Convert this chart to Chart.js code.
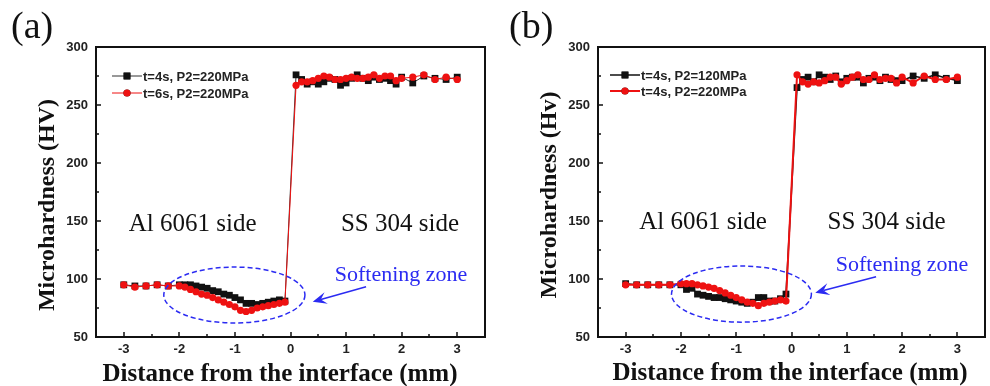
<!DOCTYPE html>
<html>
<head>
<meta charset="utf-8">
<script src="https://cdn.jsdelivr.net/npm/chart.js@4.4.1/dist/chart.umd.min.js"></script>
<style>
  html, body { margin: 0; padding: 0; background: #fff; }
  #wrap { position: relative; width: 990px; height: 386px; }
  .panel { position: absolute; top: 0; width: 495px; height: 386px; }
  #panelA { left: 0; }
  #panelB { left: 495px; }
</style>
</head>
<body>
<div id="wrap">
  <div class="panel" id="panelA"><canvas id="chartA" width="495" height="386"></canvas></div>
  <div class="panel" id="panelB"><canvas id="chartB" width="495" height="386"></canvas></div>
</div>
<script>
// distance from the interface (mm), shared by all four profiles
const distance = [
  -3, -2.8, -2.6, -2.4, -2.2,
  -2, -1.9, -1.8, -1.7, -1.6, -1.5, -1.4, -1.3, -1.2, -1.1,
  -1, -0.9, -0.8, -0.7, -0.6, -0.5, -0.4, -0.3, -0.2, -0.1,
  0.1, 0.2, 0.3, 0.4, 0.5, 0.6, 0.7, 0.8, 0.9, 1,
  1.1, 1.2, 1.3, 1.4, 1.5, 1.6, 1.7, 1.8, 1.9,
  2, 2.2, 2.4, 2.6, 2.8, 3
];

// (a) microhardness (HV)
const hvA_t4s_220 = [
  95, 94, 94, 95, 94,
  95, 95, 95, 94, 93, 92, 90, 89, 87, 86,
  84, 82, 79, 79, 78, 79, 80, 81, 82, 81,
  276, 272, 268, 270, 268, 270, 273, 272, 267, 269,
  273, 276, 273, 271, 274, 272, 273, 271, 268,
  274, 269, 275, 273, 272, 274
];
const hvA_t6s_220 = [
  95, 93, 94, 95, 94,
  94, 93, 91, 89, 87, 86, 84, 82, 80, 78,
  76, 73, 72, 73, 75, 76, 77, 78, 79, 80,
  267, 270, 270, 271, 273, 275, 274, 272, 272, 273,
  274, 273, 273, 274, 276, 273, 275, 275, 271,
  273, 274, 276, 272, 274, 272
];

// (b) microhardness (Hv)
const hvB_t4s_120 = [
  96, 95, 95, 95, 95,
  95, 91, 92, 87, 86, 85, 84, 84, 83, 82,
  81, 80, 79, 80, 84, 84, 81, 81, 83, 87,
  265, 272, 274, 270, 276, 274, 272, 275, 270, 273,
  274, 274, 269, 273, 274, 271, 274, 272, 271,
  271, 275, 273, 276, 273, 271
];
const hvB_t4s_220 = [
  95, 95, 95, 95, 95,
  96, 96, 96, 95, 94, 93, 92, 90, 88, 86,
  84, 82, 80, 79, 77, 79, 80, 81, 82, 81,
  276, 270, 268, 270, 269, 271, 274, 274, 268, 271,
  274, 276, 272, 272, 276, 272, 273, 273, 269,
  274, 269, 275, 272, 272, 274
];

const xTicks = [-3, -2, -1, 0, 1, 2, 3];
const yTicks = [50, 100, 150, 200, 250, 300];

const SERIF = '"Liberation Serif", "Times New Roman", serif';
const SANS = '"Liberation Sans", Arial, sans-serif';
const BLUE = '#2b2bf2';
const RED = '#ee1111';

function toPts(ys) {
  return distance.map((x, i) => ({ x: x, y: ys[i] }));
}

function arrow(ctx, x1, y1, x2, y2) {
  const dx = x2 - x1, dy = y2 - y1;
  const len = Math.hypot(dx, dy);
  const ux = dx / len, uy = dy / len;
  const nx = -uy, ny = ux;
  const L = 14, W = 6;
  ctx.beginPath();
  ctx.moveTo(x1, y1);
  ctx.lineTo(x2 - ux * L * 0.6, y2 - uy * L * 0.6);
  ctx.stroke();
  ctx.beginPath();
  ctx.moveTo(x2, y2);
  ctx.lineTo(x2 - ux * L + nx * W, y2 - uy * L + ny * W);
  ctx.lineTo(x2 - ux * L * 0.6, y2 - uy * L * 0.6);
  ctx.lineTo(x2 - ux * L - nx * W, y2 - uy * L - ny * W);
  ctx.closePath();
  ctx.fill();
}

// frame, inward ticks, legend, annotations and axis titles
const decorPlugin = {
  id: 'decor',
  afterDraw(chart, args, p) {
    const { ctx, chartArea: a, scales: { x, y } } = chart;
    ctx.save();

    // inward ticks
    ctx.strokeStyle = '#111';
    ctx.lineWidth = 1.5;
    ctx.beginPath();
    for (let v = -3; v <= 3; v += 0.5) {
      const px = Math.round(x.getPixelForValue(v));
      const len = Number.isInteger(v) ? 5 : 3;
      ctx.moveTo(px, a.bottom);
      ctx.lineTo(px, a.bottom - len);
    }
    for (let v = 75; v < 300; v += 25) {
      const py = Math.round(y.getPixelForValue(v));
      const len = v % 50 === 0 ? 5 : 3;
      ctx.moveTo(a.left, py);
      ctx.lineTo(a.left + len, py);
    }
    ctx.stroke();

    // frame
    ctx.lineWidth = 2;
    ctx.strokeRect(a.left, a.top, a.right - a.left, a.bottom - a.top);

    // legend
    chart.data.datasets.forEach((ds, i) => {
      const ly = a.top + p.legend.y + i * p.legend.gap;
      const lx = a.left + p.legend.x;
      ctx.strokeStyle = ds.borderColor;
      ctx.lineWidth = ds.borderWidth;
      ctx.beginPath();
      ctx.moveTo(lx, ly);
      ctx.lineTo(lx + 30, ly);
      ctx.stroke();
      Chart.helpers.drawPoint(ctx, { pointStyle: ds.pointStyle, radius: ds.pointRadius, borderWidth: 0 }, lx + 15, ly);
      ctx.fillStyle = ds.pointBackgroundColor;
      ctx.fill();
      ctx.fillStyle = '#222';
      ctx.font = 'bold 13px ' + SANS;
      ctx.textAlign = 'left';
      ctx.textBaseline = 'middle';
      ctx.fillText(ds.label, lx + 31, ly + 1);
    });

    // side labels
    ctx.fillStyle = '#111';
    ctx.font = '25px ' + SERIF;
    ctx.textAlign = 'center';
    ctx.textBaseline = 'alphabetic';
    ctx.fillText('Al 6061 side', x.getPixelForValue(p.al[0]), y.getPixelForValue(p.al[1]));
    ctx.fillText('SS 304 side', x.getPixelForValue(p.ss[0]), y.getPixelForValue(p.ss[1]));

    // softening zone
    ctx.fillStyle = BLUE;
    ctx.strokeStyle = BLUE;
    ctx.font = '22px ' + SERIF;
    ctx.fillText('Softening zone', x.getPixelForValue(p.zone[0]), y.getPixelForValue(p.zone[1]));

    const [ecx, ecy, erx, ery] = p.ellipse;
    const cx = x.getPixelForValue(ecx), cy = y.getPixelForValue(ecy);
    const rx = x.getPixelForValue(ecx + erx) - cx;
    const ry = cy - y.getPixelForValue(ecy + ery);
    ctx.lineWidth = 1.5;
    ctx.setLineDash([5, 3]);
    ctx.beginPath();
    ctx.ellipse(cx, cy, rx, ry, 0, 0, Math.PI * 2);
    ctx.stroke();
    ctx.setLineDash([]);

    ctx.lineWidth = 1.5;
    arrow(ctx, x.getPixelForValue(p.arrow[0]), y.getPixelForValue(p.arrow[1]),
      x.getPixelForValue(p.arrow[2]), y.getPixelForValue(p.arrow[3]));

    // axis titles
    ctx.fillStyle = '#111';
    ctx.font = 'bold 25px ' + SERIF;
    ctx.textAlign = 'center';
    ctx.fillText('Distance from the interface (mm)', p.xTitle[0], p.xTitle[1]);
    ctx.save();
    ctx.translate(p.yTitle[0], p.yTitle[1]);
    ctx.rotate(-Math.PI / 2);
    ctx.font = 'bold 24px ' + SERIF;
    ctx.fillText(p.yText, 0, 0);
    ctx.restore();

    // panel label
    ctx.font = '38px ' + SERIF;
    ctx.textAlign = 'left';
    ctx.fillText(p.tag, p.tagPos[0], p.tagPos[1]);

    ctx.restore();
  }
};

function makeChart(id, series, panel) {
  return new Chart(document.getElementById(id), {
    type: 'line',
    data: {
      datasets: series.map(s => ({
        label: s.label,
        data: toPts(s.values),
        order: s.order,
        borderColor: s.line,
        borderWidth: s.width,
        backgroundColor: s.fill,
        pointStyle: s.marker,
        pointRadius: s.radius,
        pointHoverRadius: s.radius,
        pointBorderWidth: 0,
        pointBackgroundColor: s.fill,
        tension: 0
      }))
    },
    options: {
      responsive: false,
      animation: false,
      devicePixelRatio: 1,
      layout: { padding: { left: 0, right: panel.padRight, top: 47, bottom: 0 } },
      plugins: {
        legend: { display: false },
        tooltip: { enabled: false },
        decor: panel
      },
      scales: {
        x: {
          type: 'linear', min: -3.5, max: 3.5,
          grid: { display: false, drawTicks: false }, border: { display: false },
          afterBuildTicks: s => { s.ticks = xTicks.map(v => ({ value: v })); },
          afterFit: s => { s.height = 49; },
          ticks: { font: { family: SANS, size: 13, weight: 'bold' }, color: '#222', padding: 5, maxRotation: 0 }
        },
        y: {
          type: 'linear', min: 50, max: 300,
          grid: { display: false, drawTicks: false }, border: { display: false },
          afterBuildTicks: s => { s.ticks = yTicks.map(v => ({ value: v })); },
          afterFit: s => { s.width = panel.axisWidth; },
          ticks: { font: { family: SANS, size: 13, weight: 'bold' }, color: '#222', padding: 8 }
        }
      }
    },
    plugins: [decorPlugin]
  });
}

makeChart('chartA', [
  { label: 't=4s, P2=220MPa', values: hvA_t4s_220, order: 1, line: '#333', width: 1, fill: '#111', marker: 'rect', radius: 4.8 },
  { label: 't=6s, P2=220MPa', values: hvA_t6s_220, order: 0, line: RED, width: 1, fill: RED, marker: 'circle', radius: 3.6 }
], {
  tag: '(a)', tagPos: [11, 38], axisWidth: 96, padRight: 10,
  yText: 'Microhardness (HV)', yTitle: [54, 205], xTitle: [280, 381],
  legend: { x: 16, y: 29, gap: 17 },
  al: [-1.76, 141.5], ss: [1.97, 141.5], zone: [1.99, 98.5],
  ellipse: [-1.01, 86.2, 1.27, 24.1], arrow: [1.36, 93.4, 0.40, 80.4]
});

makeChart('chartB', [
  { label: 't=4s, P2=120MPa', values: hvB_t4s_120, order: 1, line: '#111', width: 1.5, fill: '#111', marker: 'rect', radius: 4.8 },
  { label: 't=4s, P2=220MPa', values: hvB_t4s_220, order: 0, line: RED, width: 2, fill: RED, marker: 'circle', radius: 3.6 }
], {
  tag: '(b)', tagPos: [14, 38], axisWidth: 103, padRight: 5,
  yText: 'Microhardness (Hv)', yTitle: [61, 195], xTitle: [295, 380],
  legend: { x: 12, y: 28, gap: 16 },
  al: [-1.6, 143], ss: [1.72, 143], zone: [2.0, 107],
  ellipse: [-0.905, 87, 1.265, 24.2], arrow: [1.53, 102, 0.43, 88.2]
});
</script>
</body>
</html>
